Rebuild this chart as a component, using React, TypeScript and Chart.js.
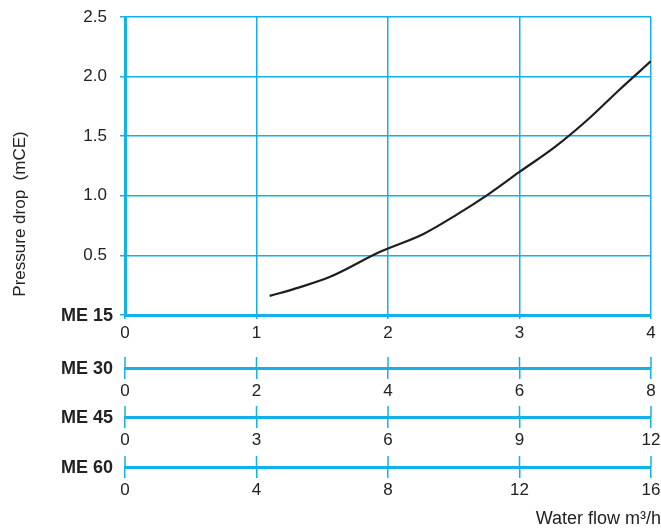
import React, { useEffect, useRef } from "react";
import { Chart, registerables } from "chart.js";

Chart.register(...registerables);

// ---- data ----
const flowME15: number[] = [1.1, 1.32, 1.56, 1.94, 2.27, 2.52, 2.76, 3.0, 3.27, 3.52, 3.76, 4.0];
const pressureDrop: number[] = [0.16, 0.23, 0.32, 0.53, 0.68, 0.84, 1.01, 1.2, 1.41, 1.64, 1.89, 2.13];
const modelLabels: string[] = ["ME 15", "ME 30", "ME 45", "ME 60"];
const modelMaxFlow: number[] = [4, 8, 12, 16];
const yTicksMax = 2.5;
const yStep = 0.5;
const yTitle = "Pressure drop  (mCE)";
const xTitle = "Water flow m\u00b3/h";

const BLUE = "#14b0e8";
const TEXT = "#222222";
const FONT = "'Liberation Sans', Arial, Helvetica, sans-serif";

const axisIds = ["x", "x2", "x3", "x4"];
const axisHeights = [53, 49, 50, 64];

export default function App() {
  const ref = useRef<HTMLCanvasElement | null>(null);

  useEffect(() => {
    if (!ref.current) return;

    const scales: any = {
      y: {
        type: "linear",
        position: "left",
        min: 0,
        max: yTicksMax,
        ticks: {
          stepSize: yStep,
          padding: 13,
          color: TEXT,
          font: { family: FONT, size: 17 },
          callback: (v: any) => (Number(v) === 0 ? "" : Number(v).toFixed(1)),
        },
        grid: { color: BLUE, lineWidth: 1.5, tickLength: 5 },
        border: { color: BLUE, width: 3 },
        afterFit: (s: any) => {
          s.width = 125;
          s.paddingTop = 0;
          s.paddingBottom = 0;
        },
      },
    };

    axisIds.forEach((id, i) => {
      const max = modelMaxFlow[i];
      scales[id] = {
        type: "linear",
        position: "bottom",
        min: 0,
        max,
        weight: i,
        ticks: {
          stepSize: max / 4,
          padding: i === 0 ? 4 : 2,
          color: TEXT,
          maxRotation: 0,
          font: { family: FONT, size: 17 },
        },
        grid: {
          color: BLUE,
          lineWidth: 1.5,
          tickLength: i === 0 ? 4 : 11,
          drawOnChartArea: i === 0,
        },
        border: { color: BLUE, width: 3 },
        afterFit: (s: any) => {
          s.height = axisHeights[i];
          s.paddingLeft = 0;
          s.paddingRight = 0;
        },
      };
    });

    const overlay = {
      id: "overlay",
      afterDraw(chart: any) {
        const ctx = chart.ctx;
        ctx.save();
        // upper half of the crossing ticks on the secondary axes
        ctx.strokeStyle = BLUE;
        ctx.lineWidth = 1.5;
        axisIds.slice(1).forEach((id) => {
          const s = chart.scales[id];
          s.ticks.forEach((t: any) => {
            const px = s.getPixelForValue(t.value);
            ctx.beginPath();
            ctx.moveTo(px, s.top - 11);
            ctx.lineTo(px, s.top);
            ctx.stroke();
          });
        });
        // model labels
        ctx.fillStyle = TEXT;
        ctx.font = `bold 18px ${FONT}`;
        ctx.textAlign = "right";
        ctx.textBaseline = "middle";
        axisIds.forEach((id, i) => {
          const s = chart.scales[id];
          ctx.fillText(modelLabels[i], 113, s.top + 1);
        });
        // axis titles
        ctx.font = `18px ${FONT}`;
        ctx.textAlign = "right";
        ctx.textBaseline = "middle";
        ctx.fillText(xTitle, 661, 519);
        ctx.font = `17px ${FONT}`;
        ctx.translate(20, 214);
        ctx.rotate(-Math.PI / 2);
        ctx.textAlign = "center";
        ctx.fillText(yTitle, 0, 0);
        ctx.restore();
      },
    };

    const chart = new Chart(ref.current, {
      type: "line",
      data: {
        datasets: [
          {
            data: flowME15.map((x, i) => ({ x, y: pressureDrop[i] })),
            xAxisID: "x",
            yAxisID: "y",
            borderColor: "#1e1e1e",
            borderWidth: 2.2,
            pointRadius: 0,
            fill: false,
            cubicInterpolationMode: "monotone",
          },
        ],
      },
      options: {
        responsive: false,
        animation: false,
        layout: { padding: { left: 0, right: 10, top: 17, bottom: 0 } },
        plugins: { legend: { display: false }, tooltip: { enabled: false } },
        scales,
      },
      plugins: [overlay],
    } as any);

    return () => chart.destroy();
  }, []);

  return (
    <div style={{ position: "fixed", left: 0, top: 0, width: 661, height: 531, background: "#fff" }}>
      <canvas ref={ref} width={661} height={531} style={{ display: "block" }} />
    </div>
  );
}
